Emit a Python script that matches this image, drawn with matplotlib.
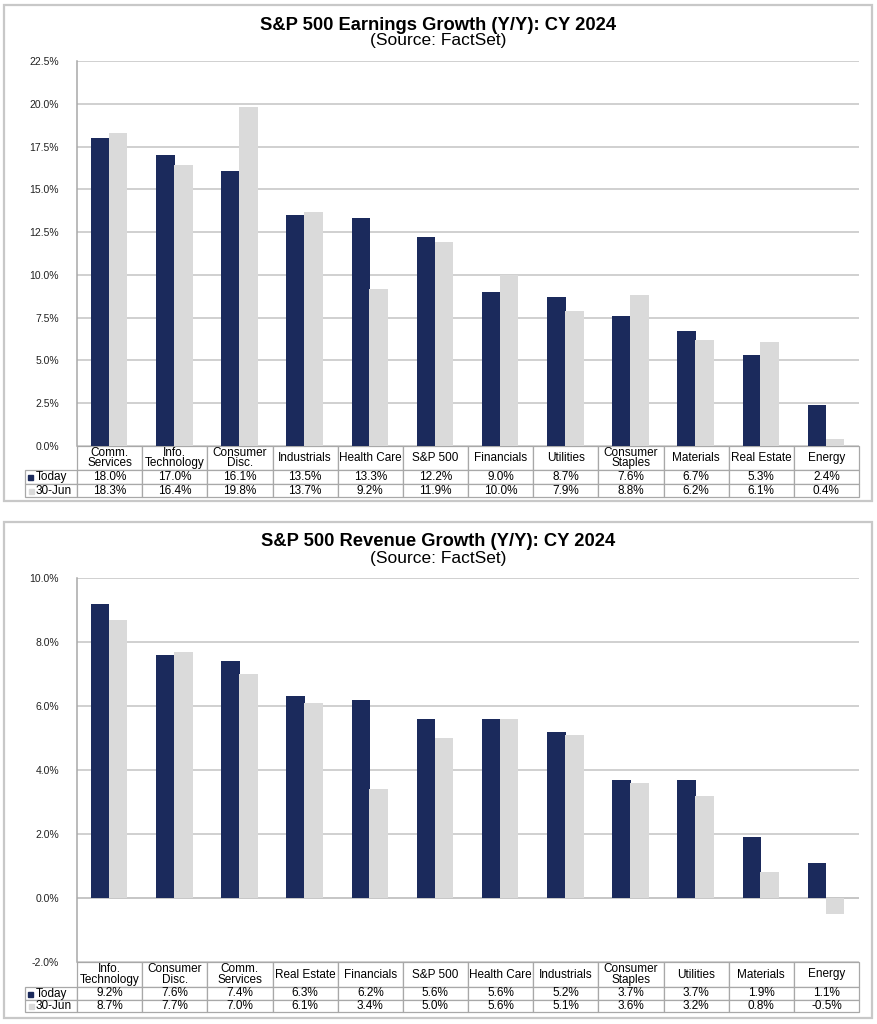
import numpy as np
import matplotlib
matplotlib.use("Agg")
import matplotlib.pyplot as plt
from matplotlib.table import Table
from matplotlib.patches import Rectangle

plt.rcParams['font.family'] = ['Liberation Sans', 'DejaVu Sans']

# earnings growth, CY 2024
earn_cats = ["Comm.\nServices", "Info.\nTechnology", "Consumer\nDisc.", "Industrials",
             "Health Care", "S&P 500", "Financials", "Utilities", "Consumer\nStaples",
             "Materials", "Real Estate", "Energy"]
earn_today = [18.0, 17.0, 16.1, 13.5, 13.3, 12.2, 9.0, 8.7, 7.6, 6.7, 5.3, 2.4]
earn_jun = [18.3, 16.4, 19.8, 13.7, 9.2, 11.9, 10.0, 7.9, 8.8, 6.2, 6.1, 0.4]
earn_ticks = [0.0, 2.5, 5.0, 7.5, 10.0, 12.5, 15.0, 17.5, 20.0, 22.5]

# revenue growth, CY 2024
rev_cats = ["Info.\nTechnology", "Consumer\nDisc.", "Comm.\nServices", "Real Estate",
            "Financials", "S&P 500", "Health Care", "Industrials", "Consumer\nStaples",
            "Utilities", "Materials", "Energy"]
rev_today = [9.2, 7.6, 7.4, 6.3, 6.2, 5.6, 5.6, 5.2, 3.7, 3.7, 1.9, 1.1]
rev_jun = [8.7, 7.7, 7.0, 6.1, 3.4, 5.0, 5.6, 5.1, 3.6, 3.2, 0.8, -0.5]
rev_ticks = [-2.0, 0.0, 2.0, 4.0, 6.0, 8.0, 10.0]

series_names = ["Today", "30-Jun"]

NAVY = '#1b2a5c'
LGRAY = '#dadada'
GRID = '#c4c4c4'
EDGE = '#a8a8a8'

W, H = 877, 1024
fig = plt.figure(figsize=(W / 100, H / 100), dpi=100)


def fx(px):
    return px / W


def fy(py):
    return 1 - py / H


def draw_panel(box, ax_px, title, cats, today, jun, ticks, row_h):
    # outer frame
    bx0, by0, bx1, by1 = box
    fig.add_artist(Rectangle((fx(bx0), fy(by1)), fx(bx1 - bx0), (by1 - by0) / H,
                             transform=fig.transFigure, fill=False,
                             edgecolor='#c8c8c8', lw=1.6))
    cx = fx(438)
    fig.text(cx, fy(by0 + 24.5), title, ha='center', va='baseline',
             fontsize=13.2, fontweight='bold')
    fig.text(cx, fy(by0 + 40.5), "(Source: FactSet)", ha='center', va='baseline',
             fontsize=12.5)

    l, t, r, b = ax_px
    ax = fig.add_axes([fx(l), fy(b), fx(r - l), (b - t) / H])
    n = len(cats)
    x = np.arange(n)
    bw = 0.285
    ax.bar(x - 0.145, today, bw, color=NAVY, zorder=3)
    ax.bar(x + 0.13, jun, bw, color=LGRAY, zorder=3)
    ax.set_xlim(-0.5, n - 0.5)
    ax.set_ylim(ticks[0], ticks[-1])
    ax.set_yticks(ticks)
    ax.set_yticklabels([f"{v:.1f}%" for v in ticks], fontsize=7.5, color='#222222')
    ax.set_xticks([])
    ax.tick_params(axis='y', length=0, pad=13)
    ax.grid(axis='y', color=GRID, lw=1.1, zorder=0)
    for s in ['top', 'right', 'bottom']:
        ax.spines[s].set_visible(False)
    ax.spines['left'].set_color(EDGE)
    ax.spines['left'].set_linewidth(1.1)
    if ticks[0] < 0:
        ax.axhline(0, color=GRID, lw=1.1, zorder=2)

    # data table below the axis
    ah = b - t
    hh, r1, r2 = [v / ah for v in row_h]
    lab_w = 52 / (r - l)
    tb = Table(ax, bbox=[0, -(hh + r1 + r2), 1, hh + r1 + r2])
    tb.auto_set_font_size(False)
    for j, c in enumerate(cats):
        cell = tb.add_cell(0, j, 1 / n, hh, text=c, loc='center', edgecolor=EDGE)
        cell.get_text().set_linespacing(0.88)
    for i, (name, vals) in enumerate(zip(series_names, [today, jun])):
        rh = r1 if i == 0 else r2
        tb.add_cell(i + 1, -1, lab_w, rh, text=name,
                    loc='center' if i == 0 else 'right', edgecolor=EDGE)
        for j, v in enumerate(vals):
            tb.add_cell(i + 1, j, 1 / n, rh, text=f"{v:.1f}%", loc='center',
                        edgecolor=EDGE)
    tb.set_fontsize(8.5)
    for cell in tb.get_celld().values():
        cell.set_linewidth(0.9)
    ax.add_table(tb)

    # legend keys in the row-label cells
    ax.plot([-lab_w + 5 / (r - l)], [-(hh + r1 / 2)], 's', ms=3.6, color=NAVY,
            transform=ax.transAxes, clip_on=False)
    ax.plot([-lab_w + 6 / (r - l)], [-(hh + r1 + r2 / 2)], 's', ms=3.6, color=LGRAY,
            transform=ax.transAxes, clip_on=False)
    return ax


draw_panel((4, 5, 872, 501), (77, 61, 859, 446),
           "S&P 500 Earnings Growth (Y/Y): CY 2024",
           earn_cats, earn_today, earn_jun, earn_ticks, (24, 14, 13))
draw_panel((4, 522, 872, 1018), (77, 578, 859, 962),
           "S&P 500 Revenue Growth (Y/Y): CY 2024",
           rev_cats, rev_today, rev_jun, rev_ticks, (25, 13, 12))

fig.savefig("out.png", dpi=100, facecolor='white')
